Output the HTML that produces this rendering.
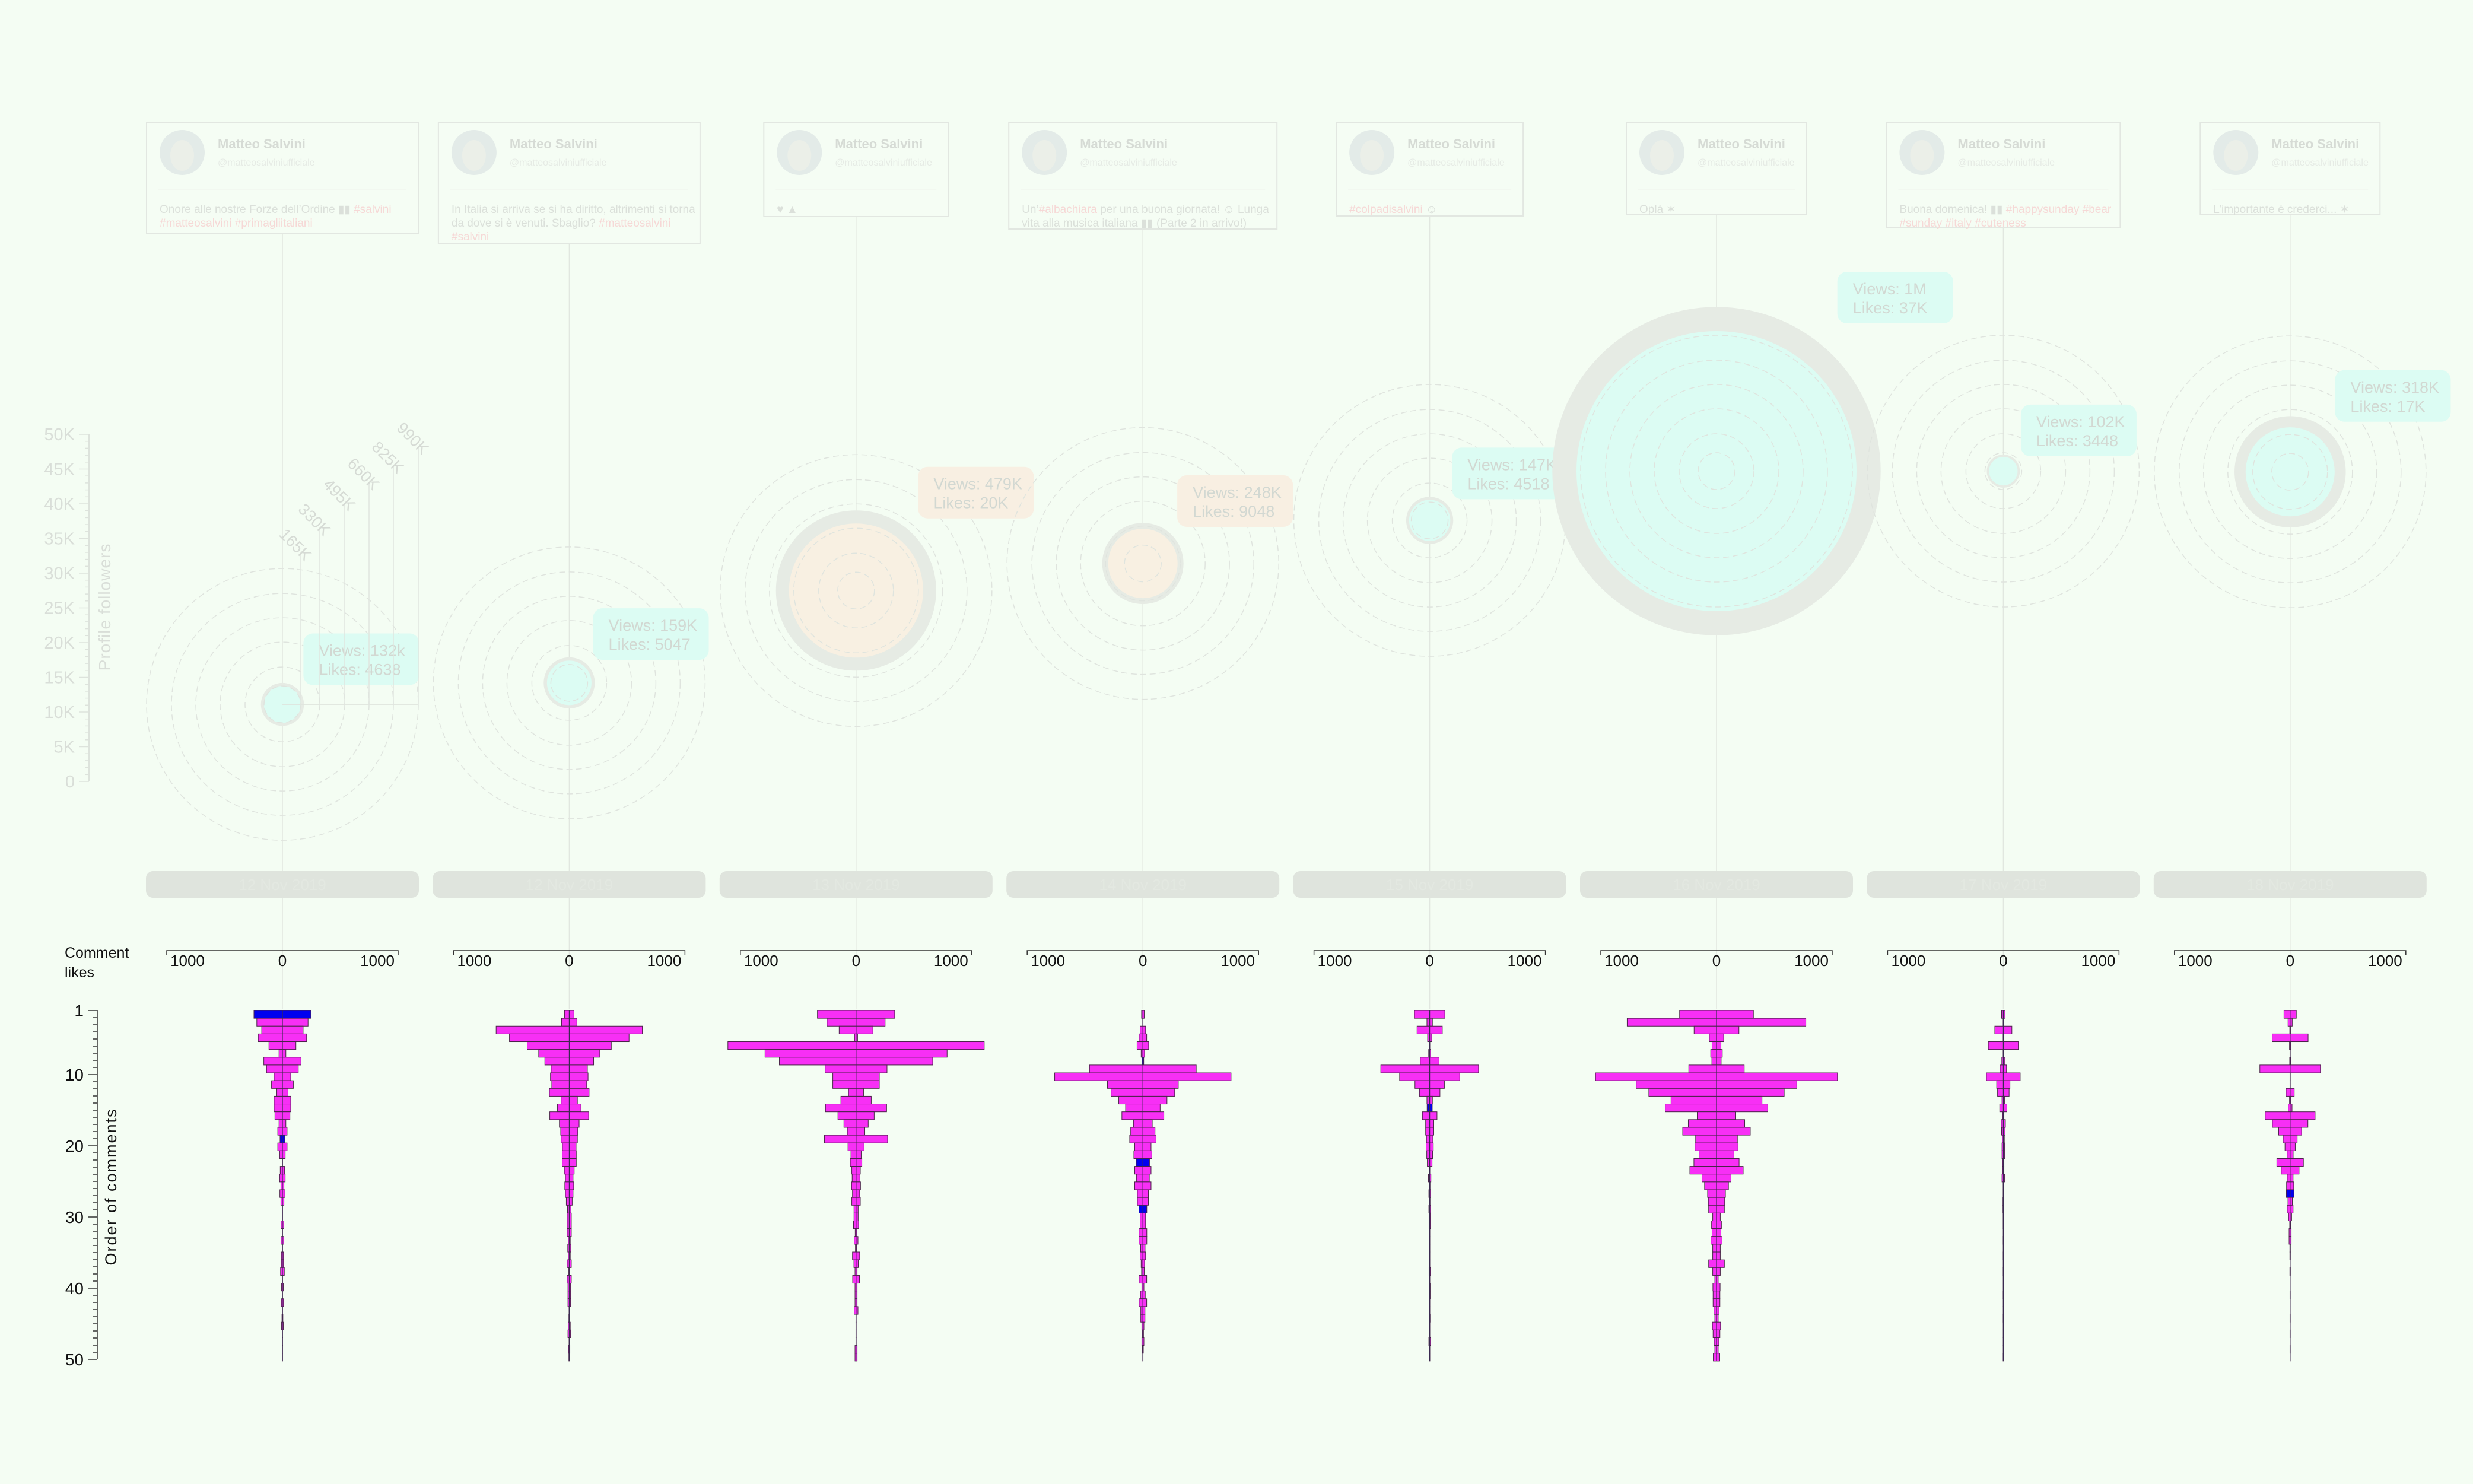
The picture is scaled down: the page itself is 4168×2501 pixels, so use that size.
<!DOCTYPE html>
<html><head><meta charset="utf-8">
<style>
html,body{margin:0;padding:0;background:#f4fdf3;}
body{width:4168px;height:2501px;overflow:hidden;position:relative;font-family:"Liberation Sans",sans-serif;}
svg{position:absolute;left:0;top:0;}
</style></head>
<body>
<svg id="chart" width="4168" height="2501" viewBox="0 0 4168 2501" xmlns="http://www.w3.org/2000/svg">
<rect x="0" y="0" width="4168" height="2501" fill="#f4fdf3"/>
</svg>
<script>
// ---------- data ----------
const postDates = ["12 Nov 2019","12 Nov 2019","13 Nov 2019","14 Nov 2019","15 Nov 2019","16 Nov 2019","17 Nov 2019","18 Nov 2019"];
const viewsK = [132,159,479,248,147,1000,102,318];
const likesK = [4.638,5.047,20,9.048,4.518,37,3.448,17];
const followersK = [11.1,14.2,27.5,31.4,37.6,44.7,44.7,44.6];
const viewLabels = ["Views: 132k","Views: 159K","Views: 479K","Views: 248K","Views: 147K","Views: 1M","Views: 102K","Views: 318K"];
const likeLabels = ["Likes: 4638","Likes: 5047","Likes: 20K","Likes: 9048","Likes: 4518","Likes: 37K","Likes: 3448","Likes: 17K"];
const bubbleKind = ["cyan","cyan","orange","orange","cyan","cyan","cyan","cyan"];
const followerTicks = [0,5,10,15,20,25,30,35,40,45,50];
const ringValuesK = [165,330,495,660,825,990];
const commentTicks = [1,10,20,30,40,50];
const likeTicks = [-1000,0,1000];
const texts = [
 [["Onore alle nostre Forze dell’Ordine ▮▮  ",""],["#salvini","h"],["\n",""],["#matteosalvini #primagliitaliani","h"]],
 [["In Italia si arriva se si ha diritto, altrimenti si torna",""],["\n",""],["da dove si è venuti. Sbaglio? ",""],["#matteosalvini","h"],["\n",""],["#salvini","h"]],
 [["♥ ▲",""]],
 [["Un’",""],["#albachiara","h"],[" per una buona giornata! ☺ Lunga",""],["\n",""],["vita alla musica italiana ▮▮ (Parte 2 in arrivo!)",""]],
 [["#colpadisalvini","h"],[" ☺",""]],
 [["Oplà ✶",""]],
 [["Buona domenica! ▮▮ ",""],["#happysunday #bear","h"],["\n",""],["#sunday #italy #cuteness","h"]],
 [["L’importante è crederci... ✶",""]]
];
const cardW = [458,441,311,452,315,304,394,303];
const cardH = [186,204,158,179,157,154,176,154];

// comment likes per post (45 comments each)
const likes1 = [300,270,218,255,142,36,196,167,88,115,59,88,88,79,36,49,25,49,29,2,23,29,16,27,16,2,2,14,2,14,2,11,11,20,2,9,2,11,2,5,9,2,2,2,2];
const likes2 = [50,81,770,630,443,322,257,191,198,184,209,86,124,205,104,90,86,72,74,74,52,40,47,40,31,18,22,22,22,11,16,11,22,5,22,14,14,14,2,4,11,14,2,7,4];
const likes3 = [407,306,178,16,1350,959,808,326,245,245,79,160,322,191,128,92,333,85,54,61,45,41,47,38,45,22,22,27,9,20,7,38,23,11,36,11,11,11,20,2,2,2,2,11,11];
const likes4 = [14,2,29,40,61,18,9,562,929,373,335,254,182,221,99,128,139,86,95,70,86,68,86,58,58,41,29,29,41,41,23,29,18,14,40,11,25,40,22,22,11,7,11,5,2];
const likes5 = [160,29,133,22,2,11,99,515,317,155,108,29,27,77,43,43,34,38,31,25,2,13,4,9,4,9,7,7,2,2,2,2,2,7,2,5,5,2,2,4,2,2,9,2,2];
const likes6 = [389,941,236,76,47,61,49,292,1274,846,713,479,540,203,297,356,220,227,184,238,281,153,126,94,86,83,40,52,47,59,40,40,83,40,18,38,36,36,27,18,43,36,25,18,34];
const likes7 = [18,2,90,2,158,2,16,34,178,70,61,14,38,7,22,18,11,14,14,7,7,14,2,2,4,4,2,2,1,2,1,2,1,2,1,1,2,1,1,2,1,1,1,1,2];
const likes8 = [65,22,4,189,7,2,5,319,2,2,43,7,20,263,187,121,74,54,32,140,94,31,38,40,23,31,16,5,11,11,3,3,1,3,1,1,2,1,1,2,1,2,1,2,1];
const blue1 = [1,17,40], blue2 = [], blue3 = [], blue4 = [7,20,26], blue5 = [13,40], blue6 = [], blue7 = [], blue8 = [24];
const allLikes = [likes1,likes2,likes3,likes4,likes5,likes6,likes7,likes8];
const allBlue = [blue1,blue2,blue3,blue4,blue5,blue6,blue7,blue8];

// ---------- scales ----------
const NS = "http://www.w3.org/2000/svg";
const svg = document.getElementById("chart");
const cxOf = i => 476 + i * 483.4;
const yFollow = k => 1317 - k * 11.7;
const rViews = k => k * 0.236;
const rLikes = k => k * 1.1;
const ringR = v => [31,63,105,146,187,229][ringValuesK.indexOf(v)];
const xLike = v => v * 0.16;
const yComment = n => 1703 + (n - 1) * 12.0;
const bandTop = i => 1703 + i * 13.13;
const bandH = 13.13;
function mk(tag, attrs, parent){const e=document.createElementNS(NS,tag);for(const k in attrs)e.setAttribute(k,attrs[k]);(parent||svg).appendChild(e);return e;}

// ---------- follower axis ----------
const fAxis = mk("g",{});


mk("line",{x1:150,y1:yFollow(50),x2:150,y2:yFollow(0),stroke:"#dde3dc","stroke-width":2},fAxis);
for(let k=0;k<=50;k++){
  const major = k%5===0;
  mk("line",{x1:major?133:143,y1:yFollow(k),x2:150,y2:yFollow(k),stroke:"#dde3dc","stroke-width":1.5},fAxis);
}
followerTicks.forEach(v=>{
  const t=mk("text",{x:126,y:yFollow(v)+10,"text-anchor":"end","font-size":29,fill:"#d9ded8"},fAxis);
  
  
  t.textContent = v===0?"0":v+"K";
});
const ft = mk("text",{x:0,y:0,transform:"translate(186,1023) rotate(-90)","text-anchor":"middle","font-size":28,fill:"#d9ded8","letter-spacing":"1"},fAxis);


ft.textContent="Profile followers";

// ---------- posts ----------
for(let i=0;i<8;i++){
  const cx=cxOf(i);
  const g=mk("g",{});
  
  
  // timeline
  mk("line",{x1:cx,y1:345,x2:cx,y2:1700,stroke:"#e1e7e0","stroke-width":1.5},g);
  // card
  const w=cardW[i], h=cardH[i], x0=cx-w/2, y0=207;
  const card=mk("g",{},g);
  
  
  mk("rect",{x:x0,y:y0,width:w,height:h,fill:"#f5fdf4",stroke:"#e2e7e1","stroke-width":2},card);
  mk("line",{x1:x0+20,y1:y0+112,x2:x0+w-20,y2:y0+112,stroke:"#eef3ed","stroke-width":1},card);
  const av=mk("circle",{cx:x0+60,cy:y0+50,r:38,fill:"#e3ebe8"},card);
  
  
  mk("ellipse",{cx:x0+60,cy:y0+55,rx:20,ry:26,fill:"#ebefe8"},card);
  const nm=mk("text",{x:x0+120,y:y0+43,"font-size":22,"font-weight":"bold",fill:"#d6dbd5"},card);
  
  
  nm.textContent="Matteo Salvini";
  const hd=mk("text",{x:x0+120,y:y0+72,"font-size":16,fill:"#e6ebe5"},card);
  
  
  hd.textContent="@matteosalviniufficiale";
  const tx=mk("text",{x:x0+22,y:y0+152,"font-size":19,fill:"#dbe0da"},card);
  
  
  let line=0, first=true;
  texts[i].forEach(([s,k])=>{
    if(s==="\n"){line++;first=true;return;}
    const sp=mk("tspan",{fill:k==="h"?"#f6d8d6":"#dbe0da"},tx);
    if(first){sp.setAttribute("x",x0+22);sp.setAttribute("y",y0+152+line*23);first=false;}
    sp.textContent=s;
  });
  // bubble
  const cy=yFollow(followersK[i]);
  const rIn=rViews(viewsK[i]), rOut=rIn+rLikes(likesK[i]);
  const bub=mk("g",{},g);
  
  
  mk("circle",{cx:cx,cy:cy,r:rOut,fill:"#e6ebe4"},bub);
  mk("circle",{cx:cx,cy:cy,r:rIn,fill:bubbleKind[i]==="cyan"?"#dcfcf3":"#f8f0e2"},bub);
  ringValuesK.forEach(v=>{
    const rr=mk("circle",{cx:cx,cy:cy,r:ringR(v),fill:"none",stroke:"#dfe4de","stroke-width":1.5,"stroke-dasharray":"10 6"},bub);
    
    
  });
  // label box
  const lx=cx+rOut*0.7+10, ly=cy-rOut*0.9-87;
  const lb=mk("g",{},g);
  
  
  mk("rect",{x:lx,y:ly,width:195,height:87,rx:16,fill:bubbleKind[i]==="cyan"?"#dcfcf3":"#f8efe2"},lb);
  const t1=mk("text",{x:lx+26,y:ly+38,"font-size":27,fill:"#d2d8d2"},lb); t1.textContent=viewLabels[i];
  const t2=mk("text",{x:lx+26,y:ly+70,"font-size":27,fill:"#d2d8d2"},lb); t2.textContent=likeLabels[i];
  // legend rings for first bubble
  if(i===0){
    mk("line",{x1:cx,y1:cy,x2:cx+229,y2:cy,stroke:"#dfe4de","stroke-width":1.5},g);
    const tops=[932,890,848,813,785,753];
    ringValuesK.forEach((v,j)=>{
      const x=cx+ringR(v);
      mk("line",{x1:x,y1:cy,x2:x,y2:tops[j],stroke:"#e0e5df","stroke-width":1.5},g);
      const lt=mk("text",{x:0,y:0,transform:`translate(${x-38},${tops[j]-30}) rotate(45)`,"font-size":27,fill:"#d6dbd5"},g);
      
      
      lt.textContent=v+"K";
    });
  }
  // date bar
  const db=mk("g",{},g);
  
  
  mk("rect",{x:cx-230,y:1468,width:460,height:45,rx:12,fill:"#dfe4dd"},db);
  const dt=mk("text",{x:cx,y:1500,"text-anchor":"middle","font-size":26,fill:"#e3e8e1"},db); dt.textContent=postDates[i];
  // like axis
  const la=mk("g",{},g);
  
  
  mk("path",{d:`M${cx-195},1610 V1602 H${cx+195} V1610`,fill:"none",stroke:"#333","stroke-width":1.5},la);
  likeTicks.forEach(v=>{
    const tt=mk("text",{x:cx+xLike(v),y:1628,"text-anchor":"middle","font-size":26,fill:"#111"},la);
    tt.textContent=Math.abs(v);
  });
  // bars
  const bars=mk("g",{},g);
  
  
  const data=allLikes[i], bl=allBlue[i];
  data.forEach((v,j)=>{
    const hw=xLike(v);
    const r=mk("rect",{x:cx-hw,y:bandTop(j),width:2*hw,height:bandH,fill:bl.includes(j+1)?"#0000f0":"#f72ff5",stroke:"#4a2248","stroke-width":1});
    
    
    bars.appendChild(r);
  });
  mk("line",{x1:cx,y1:bandTop(0),x2:cx,y2:bandTop(data.length),stroke:"#3a2a50","stroke-width":1.2},bars);
}

// ---------- comment order axis ----------
const cAxis=mk("g",{});


mk("line",{x1:164,y1:yComment(1),x2:164,y2:yComment(50),stroke:"#333","stroke-width":1.5},cAxis);
for(let n=1;n<=50;n++){
  const major=commentTicks.includes(n);
  mk("line",{x1:major?148:157,y1:yComment(n),x2:164,y2:yComment(n),stroke:"#333","stroke-width":1.5},cAxis);
}
commentTicks.forEach(n=>{
  const t=mk("text",{x:141,y:yComment(n)+10,"text-anchor":"end","font-size":28,fill:"#111"},cAxis);
  
  
  t.textContent=n;
});
const ot=mk("text",{x:0,y:0,transform:"translate(196,2000) rotate(-90)","text-anchor":"middle","font-size":27,fill:"#111","letter-spacing":"2"},cAxis);


ot.textContent="Order of comments";
const cl1=mk("text",{x:109,y:1614,"font-size":25,fill:"#111"});


cl1.textContent="Comment";
const cl2=mk("text",{x:109,y:1647,"font-size":25,fill:"#111"});


cl2.textContent="likes";
</script>
</body></html>
